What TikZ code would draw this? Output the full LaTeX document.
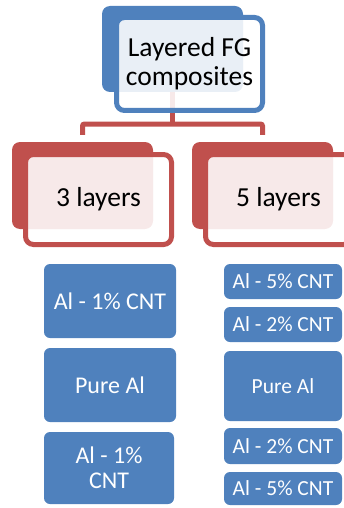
\documentclass[tikz,border=0pt]{standalone}
\usepackage{fontspec}
\setmainfont{Carlito}
\definecolor{oblue}{HTML}{4F81BD}
\definecolor{ored}{HTML}{C0504D}
\begin{document}
\begin{tikzpicture}[x=1pt,y=-1pt,
  backbox/.style={fill=#1, rounded corners=8pt, inner sep=0pt, rectangle},
  frontbox/.style={draw=#1, line width=5pt, fill=white, fill opacity=0.88, text opacity=1,
    rounded corners=8pt, inner sep=0pt, rectangle, align=center, text=black,
    font=\fontsize{27.5}{29}\selectfont},
  leaf/.style={fill=oblue, rounded corners=6pt, text=white, inner sep=0pt, rectangle, align=center},
  conn/.style={draw=ored, line width=5pt, rounded corners=2pt}]
\useasboundingbox (0,0) rectangle (344,508);
\begin{scope}
\clip (0,0) rectangle (344,508);
% back boxes
\node[backbox=oblue, minimum width=141pt, minimum height=86pt] (tb) at (172.5,49) {};
\node[backbox=ored, minimum width=141pt, minimum height=87pt] (lb) at (82.5,185.5) {};
\node[backbox=ored, minimum width=141pt, minimum height=87pt] (rb) at (262.5,185.5) {};
% connectors
\coordinate (j) at (172.5,124);
\draw[conn] (tb.south) -- (j);
\draw[conn] ([yshift=7pt]lb.north) -- (lb.north |- j) -- (rb.north |- j) -- ([yshift=7pt]rb.north);
% front boxes
\node[frontbox=oblue, minimum width=146pt, minimum height=93pt] (tf) at (189.5,64) {Layered FG\\composites};
\node[frontbox=ored, minimum width=146pt, minimum height=90pt] (lf) at (98.5,199.5) {3 layers};
\node[frontbox=ored, minimum width=146pt, minimum height=90pt] (rf) at (278.5,199.5) {5 layers};
\end{scope}
% left column
\node[leaf, minimum width=132pt, minimum height=74pt, font=\fontsize{24}{25}\selectfont] (l1) at (110,301) {Al - 1\% CNT};
\node[leaf, minimum width=132pt, minimum height=74pt, font=\fontsize{24}{25}\selectfont] (l2) at (110,385) {Pure Al};
\node[leaf, minimum width=130pt, minimum height=72pt, font=\fontsize{24}{25}\selectfont] (l3) at (109,468) {Al - 1\%\\CNT};
% right column
\node[leaf, minimum width=118pt, minimum height=35pt, font=\fontsize{21.5}{23}\selectfont] (r1) at (283,281.5) {Al - 5\% CNT};
\node[leaf, minimum width=118pt, minimum height=35pt, font=\fontsize{21.5}{23}\selectfont] (r2) at (283,324.5) {Al - 2\% CNT};
\node[leaf, minimum width=118pt, minimum height=70pt, font=\fontsize{21.5}{23}\selectfont] (r3) at (283,386) {Pure Al};
\node[leaf, minimum width=118pt, minimum height=36pt, font=\fontsize{21.5}{23}\selectfont] (r4) at (283,446) {Al - 2\% CNT};
\node[leaf, minimum width=118pt, minimum height=33pt, font=\fontsize{21.5}{23}\selectfont] (r5) at (283,488.5) {Al - 5\% CNT};
\end{tikzpicture}
\end{document}
